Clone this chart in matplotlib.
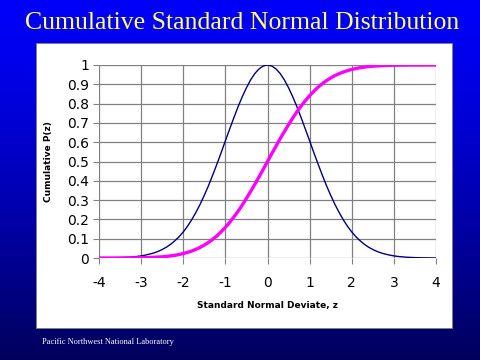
import numpy as np
import matplotlib
matplotlib.use('Agg')
import matplotlib.pyplot as plt
from matplotlib.patches import Rectangle

# values, z in steps of 0.1
z = [round(-4 + 0.1 * i, 1) for i in range(81)]
density = [0.0003, 0.0005, 0.0007, 0.001, 0.0015, 0.002, 0.003, 0.004, 0.006,
           0.008, 0.011, 0.015, 0.020, 0.026, 0.034, 0.044, 0.056, 0.071,
           0.089, 0.110, 0.135, 0.164, 0.198, 0.236, 0.278, 0.325, 0.375,
           0.430, 0.487, 0.546, 0.607, 0.667, 0.726, 0.783, 0.835, 0.882,
           0.923, 0.956, 0.980, 0.995, 1.0, 0.995, 0.980, 0.956, 0.923,
           0.882, 0.835, 0.783, 0.726, 0.667, 0.607, 0.546, 0.487, 0.430,
           0.375, 0.325, 0.278, 0.236, 0.198, 0.164, 0.135, 0.110, 0.089,
           0.071, 0.056, 0.044, 0.034, 0.026, 0.020, 0.015, 0.011, 0.008,
           0.006, 0.004, 0.003, 0.002, 0.0015, 0.001, 0.0007, 0.0005, 0.0003]
cumulative = [0.0, 0.0, 0.0001, 0.0001, 0.0002, 0.0002, 0.0003, 0.0005,
              0.0007, 0.001, 0.0013, 0.0019, 0.0026, 0.0035, 0.005, 0.006,
              0.008, 0.011, 0.014, 0.018, 0.023, 0.029, 0.036, 0.045, 0.055,
              0.067, 0.081, 0.097, 0.115, 0.136, 0.159, 0.184, 0.212, 0.242,
              0.274, 0.309, 0.345, 0.382, 0.421, 0.460, 0.5, 0.540, 0.579,
              0.618, 0.655, 0.691, 0.726, 0.758, 0.788, 0.816, 0.841, 0.864,
              0.885, 0.903, 0.919, 0.933, 0.945, 0.955, 0.964, 0.971, 0.977,
              0.982, 0.986, 0.989, 0.992, 0.994, 0.995, 0.9965, 0.9974,
              0.9981, 0.9987, 0.999, 0.9993, 0.9995, 0.9997, 0.9998, 0.9998,
              0.9999, 0.9999, 1.0, 1.0]
x_ticks = [-4, -3, -2, -1, 0, 1, 2, 3, 4]
x_labels = ['-4', '-3', '-2', '-1', '0', '1', '2', '3', '4']
y_ticks = [0, 0.1, 0.2, 0.3, 0.4, 0.5, 0.6, 0.7, 0.8, 0.9, 1]
y_labels = ['0', '0.1', '0.2', '0.3', '0.4', '0.5', '0.6', '0.7', '0.8',
            '0.9', '1']

fig = plt.figure(figsize=(4.8, 3.6), dpi=100)

# blue slide background, bright at the top, navy at the bottom
bg = fig.add_axes([0, 0, 1, 1], zorder=-2)
yy = np.linspace(0, 1, 300)[:, None] * np.ones((1, 10))
blue = 0.98 - 0.62 * yy ** 1.3
img = np.dstack([np.zeros_like(blue), np.zeros_like(blue), blue])
bg.imshow(img, extent=[0, 1, 0, 1], aspect='auto', origin='upper')
bg.axis('off')

# white chart panel
fig.patches.append(Rectangle((36 / 480, 1 - 328 / 360), 416 / 480, 285 / 360,
                             transform=fig.transFigure, facecolor='white',
                             edgecolor='#808080', lw=0.6, zorder=-1))

fig.text(242 / 480, 1 - 23 / 360, 'Cumulative Standard Normal Distribution',
         ha='center', va='center', color='#FFFF66',
         family='Liberation Serif', fontsize=18.5)
fig.text(42 / 480, 1 - 342 / 360, 'Pacific Northwest National Laboratory',
         color='white', family='Liberation Serif', fontsize=6, va='center')

ax = fig.add_axes([99 / 480, 1 - 258 / 360, 337 / 480, 193 / 360])
ax.set_facecolor('none')
ax.plot(z, density, color='#000080', lw=1)
ax.plot(z, cumulative, color='#FF00FF', lw=2.4)
ax.set_xlim(-4, 4)
ax.set_ylim(0, 1)
ax.set_xticks(x_ticks)
ax.set_xticklabels(x_labels)
ax.set_yticks(y_ticks)
ax.set_yticklabels(y_labels)
ax.grid(True, color='#808080', lw=0.9)
ax.set_axisbelow(True)
for s in ax.spines.values():
    s.set_visible(False)
ax.tick_params(axis='x', length=4, pad=9, labelsize=10, color='#808080')
ax.tick_params(axis='y', length=4, pad=3, labelsize=10, color='#808080')
ax.set_xlabel('Standard Normal Deviate, z', fontsize=6.5, fontweight='bold',
              labelpad=8)
ax.set_ylabel('Cumulative P(z)', fontsize=6.5, fontweight='bold', labelpad=10)

plt.savefig('out.png', dpi=100)
plt.close()
